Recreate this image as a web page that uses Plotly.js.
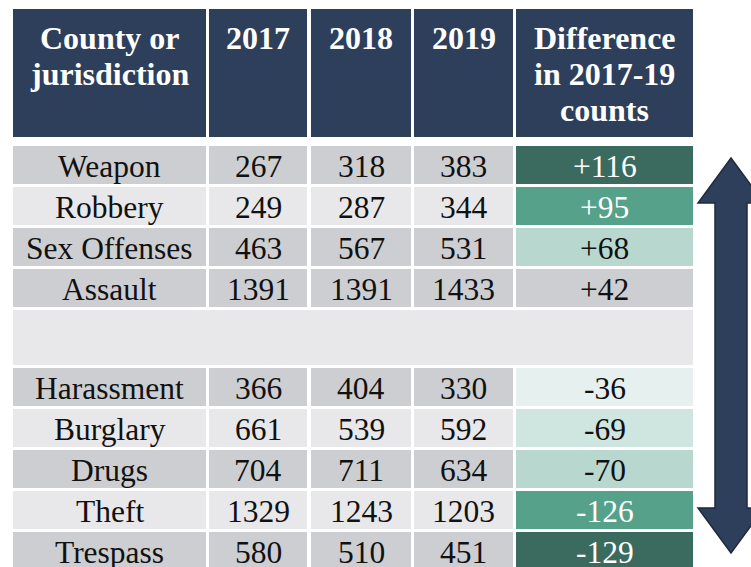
<!DOCTYPE html>
<html>
<head>
<meta charset="utf-8">
<script src="https://cdn.plot.ly/plotly-3.0.1.min.js"></script>
</head>
<body style="margin:0">
<div id="chart" style="width:751px;height:567px"></div>
<script>
// ---- data ----
const categories = ["Weapon","Robbery","Sex Offenses","Assault","Harassment","Burglary","Drugs","Theft","Trespass"];
const v2017 = [267,249,463,1391,366,661,704,1329,580];
const v2018 = [318,287,567,1391,404,539,711,1243,510];
const v2019 = [383,344,531,1433,330,592,634,1203,451];
const diff  = [116,95,68,42,-36,-69,-70,-126,-129];
const headerLines = [["County or","jurisdiction"],["2017"],["2018"],["2019"],["Difference","in 2017-19","counts"]];

// ---- styles ----
const navy = "#2E3F5C";
const dark = "#CDCED2", light = "#E8E8EA";
const diffFill = ["#3B6B5E","#56A18A","#B8D8CF",dark,"#E6F0EE","#CFE5DF","#B8D8CF","#56A18A","#3B6B5E"];
const diffText = ["#ffffff","#ffffff","#111111","#111111","#111111","#111111","#111111","#ffffff","#ffffff"];
const FONT = "Liberation Serif, Times New Roman, serif";

// layout geometry
const colLeft = [13,209,311,414,516];
const colRight = [206,307,411,513,693];
const headerTop = 9, headerBottom = 137;
const bodyTop = 146, rowH = 38, gap = 3, blankH = 55, blankAfter = 4;

const rowTop = [];
let yy = bodyTop;
let blankTop = null;
for (let i = 0; i < categories.length; i++) {
  if (i === blankAfter) { blankTop = yy; yy += blankH + gap; }
  rowTop.push(yy);
  yy += rowH + gap;
}
const rowFill = ["d","l","d","d","d","l","d","l","d"].map(c => c === "d" ? dark : light);

const colValues = [categories, v2017, v2018, v2019, diff.map(d => (d > 0 ? "+" : "") + d)];

const traces = [];
traces.push({
  type: "bar", orientation: "h",
  y: colLeft.map(() => (headerTop + headerBottom) / 2),
  x: colLeft.map((l, i) => colRight[i] - l),
  base: colLeft,
  width: colLeft.map(() => headerBottom - headerTop),
  marker: {color: navy, line: {width: 0}},
  hoverinfo: "skip", showlegend: false
});
traces.push({
  type: "bar", orientation: "h",
  y: [blankTop + blankH / 2], x: [colRight[4] - colLeft[0]], base: [colLeft[0]],
  width: [blankH], marker: {color: light, line: {width: 0}},
  hoverinfo: "skip", showlegend: false
});
for (let c = 0; c < 5; c++) {
  traces.push({
    type: "bar", orientation: "h",
    y: rowTop.map(t => t + rowH / 2),
    x: rowTop.map(() => colRight[c] - colLeft[c]),
    base: rowTop.map(() => colLeft[c]),
    width: rowTop.map(() => rowH),
    marker: {color: c === 4 ? diffFill : rowFill, line: {width: 0}},
    hoverinfo: "skip", showlegend: false
  });
}

const annotations = [];
const lineSpace = 36, firstCenter = 38;
headerLines.forEach((lines, c) => {
  lines.forEach((ln, k) => {
    annotations.push({
      x: (colLeft[c] + colRight[c]) / 2, y: firstCenter + k * lineSpace,
      xref: "x", yref: "y", xanchor: "center", yanchor: "middle",
      text: "<b>" + ln + "</b>", showarrow: false,
      font: {family: FONT, size: 32, color: "#ffffff"}
    });
  });
});
for (let c = 0; c < 5; c++) {
  for (let r = 0; r < categories.length; r++) {
    annotations.push({
      x: (colLeft[c] + colRight[c]) / 2, y: rowTop[r] + rowH / 2 + 1,
      xref: "x", yref: "y", xanchor: "center", yanchor: "middle",
      text: String(colValues[c][r]), showarrow: false,
      font: {family: FONT, size: 31.5, color: c === 4 ? diffText[r] : "#111111"}
    });
  }
}

const ax = 731, tipTop = 158, headTopBase = 203, tipBot = 553, headBotBase = 508, hw = 33, sw = 16;
const arrowPath = `M ${ax} ${tipTop} L ${ax+hw} ${headTopBase} L ${ax+sw} ${headTopBase} L ${ax+sw} ${headBotBase} L ${ax+hw} ${headBotBase} L ${ax} ${tipBot} L ${ax-hw} ${headBotBase} L ${ax-sw} ${headBotBase} L ${ax-sw} ${headTopBase} L ${ax-hw} ${headTopBase} Z`;

const layout = {
  width: 751, height: 567,
  margin: {l: 0, r: 0, t: 0, b: 0},
  paper_bgcolor: "#ffffff", plot_bgcolor: "#ffffff",
  barmode: "overlay",
  xaxis: {range: [0, 751], visible: false, fixedrange: true},
  yaxis: {range: [567, 0], visible: false, fixedrange: true},
  shapes: [{type: "path", xref: "x", yref: "y", path: arrowPath, fillcolor: navy, line: {color: "#1E2A3E", width: 1.5}}],
  annotations: annotations,
  showlegend: false
};
Plotly.newPlot("chart", traces, layout, {displayModeBar: false});
</script>
</body>
</html>
